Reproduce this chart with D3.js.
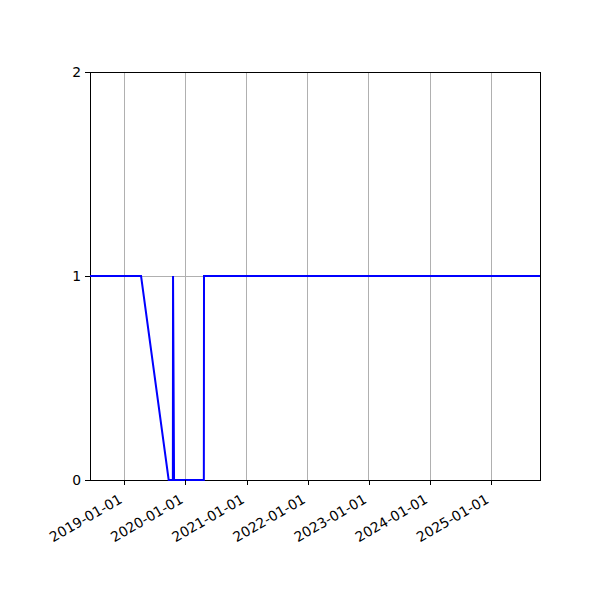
<!DOCTYPE html>
<html lang="en">

<head>
    <meta charset="UTF-8">
    <title>Step series</title>
    <script src="https://d3js.org/d3.v7.min.js"></script>
</head>
<style>
    body {
        margin: 0;
    }

    .axis path,
    .axis line {
        stroke: black;
        stroke-width: 1px;
        shape-rendering: crispEdges;
    }

    .axis text {
        font-family: "DejaVu Sans", sans-serif;
        font-size: 13.9px;
        fill: black;
    }

    .grid line {
        stroke: #b0b0b0;
        stroke-width: 1px;
        shape-rendering: crispEdges;
    }

    .line {
        fill: none;
        stroke: #0000ff;
        stroke-width: 2px;
    }
</style>

<body>
    <svg id="chart"></svg>

    <script>
        // Values
        var dates = ["2018-06-10", "2019-04-11", "2019-09-23", "2019-10-18", "2019-10-19",
            "2019-10-25", "2020-04-20", "2020-04-21", "2025-10-19"];
        var values = [1, 1, 0, 0, 1, 0, 0, 1, 1];
        var xTicks = ["2019-01-01", "2020-01-01", "2021-01-01", "2022-01-01",
            "2023-01-01", "2024-01-01", "2025-01-01"];
        var yTicks = [0, 1, 2];

        var parse = d3.timeParse("%Y-%m-%d");
        var data = dates.map(function(d, i) {
            return { date: parse(d), value: values[i] };
        });

        var margin = { top: 72, right: 60, bottom: 120, left: 90 },
            width = 600 - margin.left - margin.right,
            height = 600 - margin.top - margin.bottom;

        var svg = d3.select("#chart")
            .attr("width", 600)
            .attr("height", 600)
            .append("g")
            .attr("transform", "translate(" + margin.left + "," + margin.top + ")");

        var x = d3.scaleTime()
            .domain(d3.extent(data, function(d) { return d.date; }))
            .range([0, width]);

        var y = d3.scaleLinear()
            .domain([0, 2])
            .range([height, 0]);

        // grid lines
        var grid = svg.append("g").attr("class", "grid");
        grid.selectAll("line.v")
            .data(xTicks)
            .enter().append("line")
            .attr("class", "v")
            .attr("x1", function(d) { return x(parse(d)); })
            .attr("x2", function(d) { return x(parse(d)); })
            .attr("y1", 0)
            .attr("y2", height);

        grid.selectAll("line.h")
            .data(yTicks)
            .enter().append("line")
            .attr("class", "h")
            .attr("x1", 0)
            .attr("x2", width)
            .attr("y1", function(d) { return y(d); })
            .attr("y2", function(d) { return y(d); });

        // frame
        svg.append("rect")
            .attr("width", width)
            .attr("height", height)
            .attr("fill", "none")
            .attr("stroke", "black")
            .attr("stroke-width", 1)
            .attr("shape-rendering", "crispEdges");

        var line = d3.line()
            .x(function(d) { return x(d.date); })
            .y(function(d) { return y(d.value); });

        svg.append("path")
            .datum(data)
            .attr("class", "line")
            .attr("d", line);

        var xAxis = svg.append("g")
            .attr("class", "axis")
            .attr("transform", "translate(0," + height + ")")
            .call(d3.axisBottom(x)
                .tickValues(xTicks.map(parse))
                .tickSize(5)
                .tickFormat(d3.timeFormat("%Y-%m-%d")));
        xAxis.select(".domain").remove();
        xAxis.selectAll("text")
            .attr("x", 0)
            .attr("y", 0)
            .attr("text-anchor", "end")
            .attr("dy", "0.75em")
            .attr("transform", "translate(-7,13) rotate(-30)");

        var yAxis = svg.append("g")
            .attr("class", "axis")
            .call(d3.axisLeft(y)
                .tickValues(yTicks)
                .tickSize(5)
                .tickPadding(4)
                .tickFormat(d3.format("d")));
        yAxis.select(".domain").remove();
    </script>
</body>

</html>
